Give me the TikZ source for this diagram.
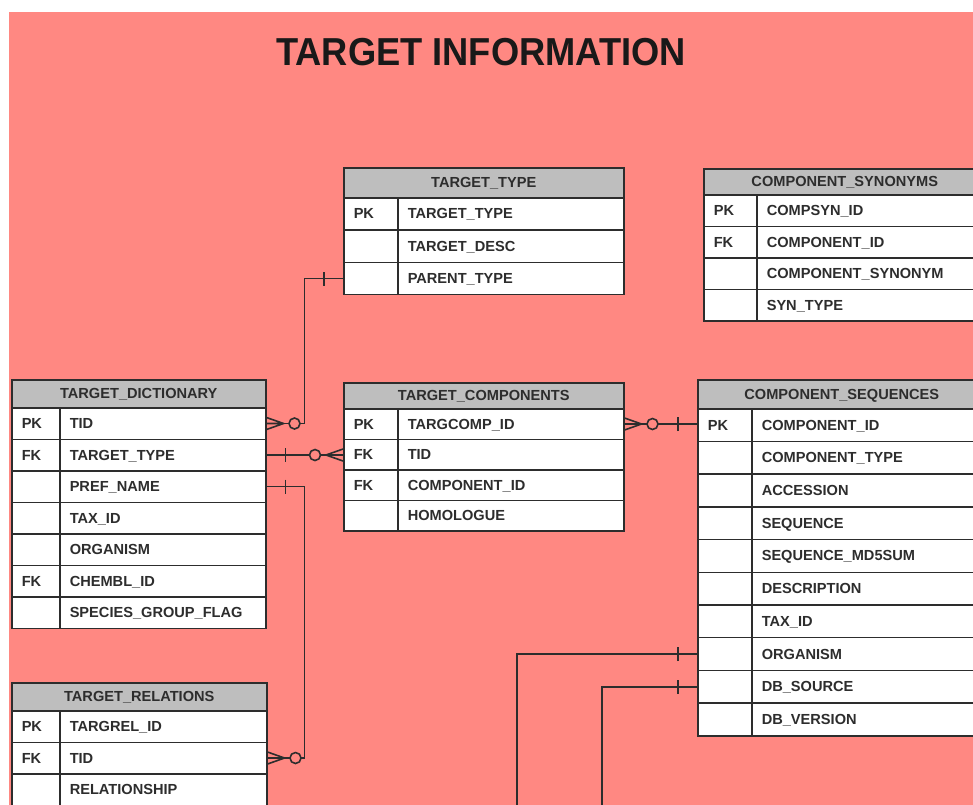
\documentclass[tikz,border=0pt]{standalone}
\usepackage{fontspec}
\setmainfont{Liberation Sans}
\usetikzlibrary{calc,positioning}

\definecolor{pinkbg}{RGB}{255,136,130}
\definecolor{hdrgray}{RGB}{190,190,190}
\definecolor{inkgray}{RGB}{45,45,45}

\tikzset{
    tbl/.style={draw=inkgray, line width=1.5pt, anchor=north west, inner ysep=0pt,
        font=\fontsize{14.6}{16}\selectfont\bfseries, text=inkgray,
        text height=10.5pt, text depth=0.5pt},
    hdr/.style={tbl, fill=hdrgray, inner xsep=0pt, align=center},
    keycell/.style={tbl, fill=white, inner xsep=10pt, align=left},
    fieldcell/.style={tbl, fill=white, inner xsep=10pt, align=left},
    conn/.style={draw=inkgray, line width=1.6pt},
    manyzero/.pic={
        \draw[conn] (0,-6) -- (17,0) -- (0,6) (0,0) -- (17,0);
        \fill[inkgray] (13,-1.8) -- (17,0) -- (13,1.8) -- cycle;
        \draw[conn, fill=pinkbg] (28,0) circle (5.5);
    },
    onebar/.pic={\draw[conn] (19,-7) -- (19,7);}
}

\begin{document}
\begin{tikzpicture}[x=1pt, y=-1pt]
            \useasboundingbox (0,0) rectangle (973,804);
            \clip (0,0) rectangle (973,804);
            % Background
            \fill[pinkbg] (9,12) rectangle (975,806);
            \node[font=\fontsize{39}{40}\selectfont\bfseries, text=black!90] (title) at (481,52) {\scalebox{0.93}[1]{TARGET INFORMATION}};

            % TARGET_TYPE
            \node[hdr, minimum width=280, minimum height=30] (tt) at (343,167) {TARGET\_TYPE};
            \foreach \k/\f [count=\i] in {PK/TARGET\_TYPE, /TARGET\_DESC, /PARENT\_TYPE} {
                \node[keycell, text width=34, minimum height=32.3] (tt-k\i) at (343,{197+(\i-1)*32.3}) {\k};
                \node[fieldcell, text width=206, minimum height=32.3] (tt-\i) at (397,{197+(\i-1)*32.3}) {\f};
            }

            % COMPONENT_SYNONYMS
            \node[hdr, minimum width=282, minimum height=26] (csyn) at (703,168) {COMPONENT\_SYNONYMS};
            \foreach \k/\f [count=\i] in {PK/COMPSYN\_ID, FK/COMPONENT\_ID, /COMPONENT\_SYNONYM, /SYN\_TYPE} {
                \node[keycell, text width=33, minimum height=31.5] (csyn-k\i) at (703,{194+(\i-1)*31.5}) {\k};
                \node[fieldcell, text width=209, minimum height=31.5] (csyn-\i) at (756,{194+(\i-1)*31.5}) {\f};
            }

            % TARGET_DICTIONARY
            \node[hdr, minimum width=254, minimum height=28] (td) at (11,379) {TARGET\_DICTIONARY};
            \foreach \k/\f [count=\i] in {PK/TID, FK/TARGET\_TYPE, /PREF\_NAME, /TAX\_ID, /ORGANISM, FK/CHEMBL\_ID, /SPECIES\_GROUP\_FLAG} {
                \node[keycell, text width=28, minimum height=31.5] (td-k\i) at (11,{407+(\i-1)*31.5}) {\k};
                \node[fieldcell, text width=186, minimum height=31.5] (td-\i) at (59,{407+(\i-1)*31.5}) {\f};
            }

            % TARGET_COMPONENTS
            \node[hdr, minimum width=280, minimum height=26] (tc) at (343,382) {TARGET\_COMPONENTS};
            \foreach \k/\f [count=\i] in {PK/TARGCOMP\_ID, FK/TID, FK/COMPONENT\_ID, /HOMOLOGUE} {
                \node[keycell, text width=34, minimum height=30.5] (tc-k\i) at (343,{408+(\i-1)*30.5}) {\k};
                \node[fieldcell, text width=206, minimum height=30.5] (tc-\i) at (397,{408+(\i-1)*30.5}) {\f};
            }

            % COMPONENT_SEQUENCES
            \node[hdr, minimum width=288, minimum height=29] (cs) at (697,379) {COMPONENT\_SEQUENCES};
            \foreach \k/\f [count=\i] in {PK/COMPONENT\_ID, /COMPONENT\_TYPE, /ACCESSION, /SEQUENCE, /SEQUENCE\_MD5SUM, /DESCRIPTION, /TAX\_ID, /ORGANISM, /DB\_SOURCE, /DB\_VERSION} {
                \node[keycell, text width=34, minimum height=32.7] (cs-k\i) at (697,{408+(\i-1)*32.7}) {\k};
                \node[fieldcell, text width=214, minimum height=32.7] (cs-\i) at (751,{408+(\i-1)*32.7}) {\f};
            }

            % TARGET_RELATIONS
            \node[hdr, minimum width=255, minimum height=28] (tr) at (11,682) {TARGET\_RELATIONS};
            \foreach \k/\f [count=\i] in {PK/TARGREL\_ID, FK/TID, /RELATIONSHIP} {
                \node[keycell, text width=28, minimum height=31.5] (tr-k\i) at (11,{710+(\i-1)*31.5}) {\k};
                \node[fieldcell, text width=187, minimum height=31.5] (tr-\i) at (59,{710+(\i-1)*31.5}) {\f};
            }

            % Relationship lines
            \draw[conn] (td-1.east) -- ++(38,0) |- (tt-k3.west);
            \draw[conn] (td-2.east) -- (td-2.east -| tc-k2.west);
            \draw[conn] (td-3.east) -- ++(38,0) |- (tr-2.east);
            \draw[conn] (tc-1.east) -- (tc-1.east -| cs-k1.west);
            \coordinate (orgdrop) at (517,810);
            \coordinate (srcdrop) at (602,810);
            \draw[conn] (cs-k8.west) -| (orgdrop);
            \draw[conn] (cs-k9.west) -| (srcdrop);

            % Line ends
            \pic at (td-1.east) {manyzero};
            \pic[rotate=180] at (tt-k3.west) {onebar};
            \pic at (td-2.east) {onebar};
            \pic[rotate=180] at (td-2.east -| tc-k2.west) {manyzero};
            \pic at (td-3.east) {onebar};
            \pic at (tr-2.east) {manyzero};
            \pic at (tc-1.east) {manyzero};
            \pic[rotate=180] at (tc-1.east -| cs-k1.west) {onebar};
            \pic[rotate=180] at (cs-k8.west) {onebar};
            \pic[rotate=180] at (cs-k9.west) {onebar};
        \end{tikzpicture}
\end{document}
